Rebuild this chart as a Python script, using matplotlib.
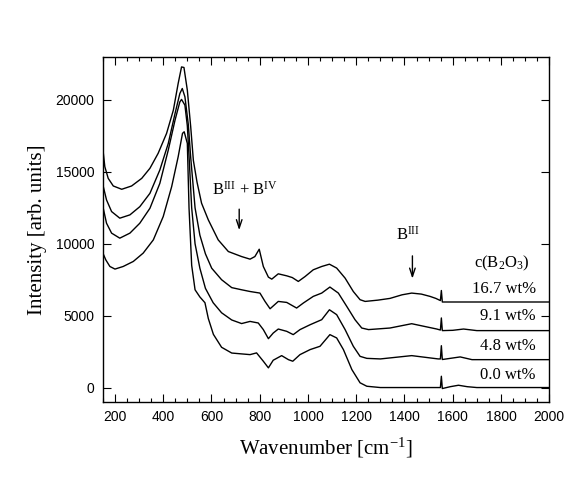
import numpy as np
import matplotlib
matplotlib.use("Agg")
import matplotlib.pyplot as plt
from matplotlib.ticker import MultipleLocator

# Raman spectra, values
wn_167 = [150, 158, 172, 193, 228, 269, 311, 345, 379, 414, 442, 462, 476, 486, 500, 514, 525, 540, 559, 587,
          628, 670, 725, 760, 780, 798, 815, 836, 850, 877, 912, 935, 960, 988, 1022, 1057, 1089, 1119, 1154,
          1188, 1216, 1237, 1290, 1340, 1390, 1430, 1470, 1506, 1530, 1549, 1553, 1557, 1600, 2000]
int_167 = [16570, 15360, 14550, 14020, 13790, 14020, 14550, 15250, 16290, 17680, 19290, 21150, 22300, 22260,
           20680, 18130, 15800, 14300, 12820, 11660, 10270, 9460, 9110, 8930, 9110, 9620, 8420, 7680, 7540,
           7910, 7770, 7650, 7380, 7720, 8190, 8420, 8580, 8310, 7610, 6680, 6110, 5990, 6080, 6200, 6450,
           6570, 6500, 6340, 6200, 6050, 6750, 5950, 5950, 5950]

wn_91 = [150, 165, 186, 220, 262, 303, 345, 386, 421, 449, 469, 479, 490, 504, 514, 532, 552, 575, 601, 642,
         684, 725, 760, 801, 822, 843, 877, 912, 953, 981, 1022, 1057, 1091, 1126, 1161, 1195, 1223, 1251, 1340,
         1430, 1534, 1549, 1553, 1557, 1600, 1645, 1700, 2000]
int_91 = [14090, 13050, 12240, 11780, 12010, 12580, 13510, 15130, 16980, 19060, 20450, 20800, 20220, 18300,
          16000, 12500, 10600, 9300, 8300, 7500, 6950, 6800, 6680, 6570, 5990, 5480, 5990, 5920, 5530, 5880,
          6340, 6570, 6990, 6570, 5640, 4720, 4140, 4030, 4140, 4440, 4070, 4000, 4840, 3960, 3980, 4070, 3960,
          3960]

wn_48 = [150, 165, 186, 220, 262, 303, 345, 386, 421, 449, 469, 476, 490, 500, 508, 518, 532, 552, 575, 607,
         642, 684, 725, 760, 794, 815, 836, 856, 877, 912, 939, 967, 1009, 1057, 1089, 1119, 1154, 1188, 1216,
         1244, 1300, 1430, 1540, 1549, 1553, 1557, 1631, 1680, 2000]
int_48 = [12580, 11430, 10740, 10390, 10740, 11430, 12470, 14200, 16520, 18600, 19870, 20040, 19640, 18200,
          15800, 12500, 10000, 8300, 6900, 5900, 5200, 4700, 4450, 4600, 4490, 4030, 3400, 3790, 4070, 3910,
          3680, 4030, 4370, 4720, 5410, 5070, 4030, 2870, 2170, 2030, 1990, 2220, 1990, 1990, 2910, 1950, 2130,
          1940, 1940]

wn_00 = [150, 162, 179, 200, 234, 276, 317, 359, 400, 435, 462, 480, 487, 500, 507, 518, 532, 552, 573, 587,
         608, 642, 684, 725, 760, 787, 815, 836, 856, 891, 919, 937, 967, 1009, 1050, 1091, 1119, 1147, 1182,
         1216, 1244, 1300, 1549, 1553, 1557, 1590, 1624, 1660, 1700, 2000]
int_00 = [9350, 8880, 8420, 8240, 8420, 8770, 9350, 10270, 11890, 13970, 16050, 17680, 17790, 16980, 12500,
          8500, 6800, 6300, 5900, 4800, 3700, 2800, 2400, 2340, 2290, 2410, 1830, 1370, 1900, 2220, 1940, 1830,
          2290, 2640, 2870, 3680, 3450, 2640, 1250, 330, 90, 0, 0, 785, -70, 60, 160, 60, 0, 0]

series = [(wn_167, int_167), (wn_91, int_91), (wn_48, int_48), (wn_00, int_00)]
conc_labels = ["16.7 wt%", "9.1 wt%", "4.8 wt%", "0.0 wt%"]
label_y = [6850, 4950, 2870, 900]

plt.rcParams['mathtext.fontset'] = 'custom'
plt.rcParams['mathtext.rm'] = 'Liberation Serif'
plt.rcParams['mathtext.it'] = 'Liberation Serif:italic'

fig = plt.figure(figsize=(5.88, 4.86), dpi=100)
ax = fig.add_axes([0.175, 0.173, 0.759, 0.710])

for wn, inten in series:
    ax.plot(wn, inten, color='black', linewidth=1.0)

ax.set_xlim(150, 2000)
ax.set_ylim(-1000, 23000)
ax.xaxis.set_major_locator(MultipleLocator(200))
ax.xaxis.set_minor_locator(MultipleLocator(50))
ax.yaxis.set_major_locator(MultipleLocator(5000))
ax.tick_params(which='both', direction='in', top=True, right=True, width=0.8)
ax.tick_params(which='major', length=6, labelsize=10, pad=6)
ax.tick_params(which='minor', length=3)
for lab in ax.get_xticklabels() + ax.get_yticklabels():
    lab.set_family('Liberation Sans')
for s in ax.spines.values():
    s.set_linewidth(1.0)

ax.set_xlabel(r'Wavenumber [cm$^{\mathrm{-1}}$]', family='Liberation Serif', fontsize=15, labelpad=8)
ax.set_ylabel('Intensity [arb. units]', family='Liberation Serif', fontsize=15, labelpad=6)

# concentration labels
ax.text(1805, 8650, r'c(B$_2$O$_3$)', family='Liberation Serif', fontsize=12, ha='center', va='center')
for txt, yy in zip(conc_labels, label_y):
    ax.text(1945, yy, txt, family='Liberation Serif', fontsize=12, ha='right', va='center')

# band assignments
ax.text(740, 13750, r'B$^{\mathrm{III}}$ + B$^{\mathrm{IV}}$', family='Liberation Serif', fontsize=12,
        ha='center', va='center')
ax.annotate('', xy=(715, 10750), xytext=(715, 12600),
            arrowprops=dict(arrowstyle='->,head_length=0.6,head_width=0.2', color='black', lw=1.0))
ax.text(1415, 10650, r'B$^{\mathrm{III}}$', family='Liberation Serif', fontsize=12, ha='center', va='center')
ax.annotate('', xy=(1433, 7380), xytext=(1433, 9350),
            arrowprops=dict(arrowstyle='->,head_length=0.6,head_width=0.2', color='black', lw=1.0))

fig.savefig('out.png', dpi=100)
